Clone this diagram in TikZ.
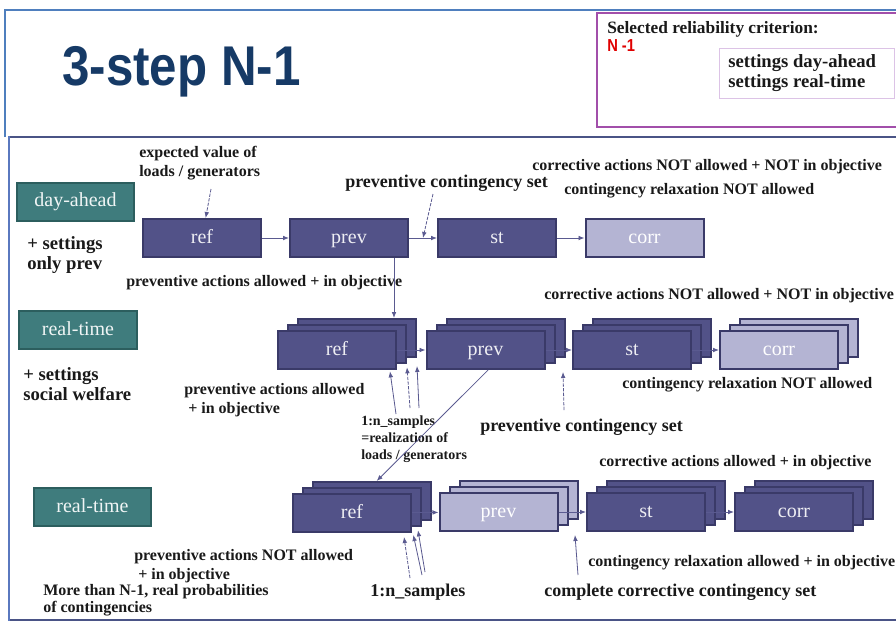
\documentclass[tikz,border=0pt]{standalone}
\usepackage{fontspec}
\setmainfont{Liberation Serif}
\newfontfamily\sansb{Liberation Sans}
\usetikzlibrary{arrows.meta,calc}
\definecolor{boxfill}{HTML}{525288}
\definecolor{boxline}{HTML}{3A3A68}
\definecolor{litefill}{HTML}{B4B4D3}
\definecolor{phasefill}{HTML}{3F7C7D}
\definecolor{phaseline}{HTML}{2C5E5E}
\definecolor{arrowc}{HTML}{5A5A90}
\definecolor{titlec}{HTML}{163A66}
\definecolor{hdrblue}{HTML}{4F7FBE}
\definecolor{mainblue}{HTML}{5A78BF}
\definecolor{mainline}{HTML}{4A5486}
\definecolor{purp}{HTML}{A24FAA}
\definecolor{lpurp}{HTML}{DCC3E6}
\definecolor{nred}{HTML}{E00000}
\tikzset{
 blk/.style={draw=boxline, fill=boxfill, line width=1.5pt, minimum width=88.5pt, minimum height=28.5pt, inner sep=0pt, text height=9pt, text depth=1.5pt, text=white!90!boxfill, font=\fontsize{15}{15}\selectfont},
 lite/.style={blk, fill=litefill, text=white},
 phase/.style={draw=phaseline, fill=phasefill, line width=1.5pt, minimum width=88pt, minimum height=28.5pt, inner sep=0pt, text height=9.5pt, text depth=1.5pt, text=white!92!phasefill, font=\fontsize{15}{15}\selectfont},
 lbl/.style={anchor=west, inner sep=0pt, align=left, text=black!90, font=\bfseries\fontsize{12}{14.25}\selectfont},
 big/.style={lbl, font=\bfseries\fontsize{13.5}{16}\selectfont},
 mid/.style={lbl, font=\bfseries\fontsize{14}{15}\selectfont},
 small/.style={lbl, font=\bfseries\fontsize{10.5}{12.75}\selectfont},
 conn/.style={draw=arrowc, line width=0.6pt, -{Latex[length=4.5pt,width=3.5pt]}},
 ann/.style={conn, dash pattern=on 2.5pt off 1pt}
}
\newcommand{\mystack}[5]{%
 \node[#4] (#1c) at ({#2+20},{#3-12}) {};
 \node[#4] (#1b) at ({#2+10},{#3-6}) {};
 \node[#4] (#1) at (#2,#3) {#5};}
\begin{document}
\begin{tikzpicture}[x=0.75pt,y=-0.75pt]
\useasboundingbox (0,0) rectangle (896,622);
\fill[white] (0,0) rectangle (896,622);
% frames
\draw[hdrblue, line width=1.5pt] (5,137) -- (5,10) -- (896,10);
\draw[purp, line width=2pt] (897,13) -- (597,13) -- (597,127) -- (897,127);
\draw[mainline, line width=1.5pt] (897,137) -- (9,137);
\draw[mainline, line width=1.5pt] (9,620) -- (897,620);
\draw[mainblue, line width=2.2pt] (9,136) -- (9,621);
% header
\node[anchor=west, inner sep=0pt, text=titlec, font=\sansb\bfseries\fontsize{42}{42}\selectfont] (title) at (62,72) {\scalebox{0.88}[1]{3-step N-1}};
\node[lbl, font=\bfseries\fontsize{13}{15}\selectfont] (sel) at (607,29) {Selected reliability criterion:};
\node[anchor=west, inner sep=0pt, text=nred, font=\sansb\bfseries\fontsize{13}{13}\selectfont] (n1) at (607,46) {\scalebox{0.85}[1]{N -1}};
\node[draw=lpurp, line width=0.75pt, minimum width=131pt, minimum height=37.5pt, inner sep=0pt] (sett) at (807,73.5) {};
\node[mid] (setttxt) at (728,73) {settings day-ahead\\settings real-time};

% row 1
\node[phase] (da) at (75.5,201.5) {day-ahead};
\node[mid] (set1) at (27,255) {+ settings\\only prev};
\node[blk] (ref1) at (202,238) {ref};
\node[blk] (prev1) at (349,238) {prev};
\node[blk] (st1) at (497,238) {st};
\node[lite] (corr1) at (644.5,238) {corr};
\draw[conn] (ref1) -- (prev1);
\draw[conn] (prev1) -- (st1);
\draw[conn] (st1) -- (corr1);
\node[lbl] (expv) at (139,163) {expected value of\\loads / generators};
\coordinate (expS) at (211,189);
\draw[ann] (expS) -- (ref1);
\node[big] (pcs1) at (345,183) {preventive contingency set};
\coordinate (pcs1S) at (433,194);
\coordinate (pcs1T) at ($(prev1.east)!0.5!(st1.west)$);
\draw[ann] (pcs1S) -- (pcs1T);
\node[lbl] (cna1) at (532,167) {corrective actions NOT allowed + NOT in objective};
\node[lbl] (crn1) at (564,191) {contingency relaxation NOT allowed};
\node[lbl] (paa1) at (126,283) {preventive actions allowed + in objective};

% row 2
\node[phase] (rt2) at (78,330) {real-time};
\node[mid] (set2) at (23,384) {+ settings\\social welfare};
\mystack{ref2}{337}{350}{blk}{ref}
\mystack{prev2}{485.5}{350}{blk}{prev}
\mystack{st2}{632}{350}{blk}{st}
\mystack{corr2}{779}{350}{lite}{corr}
\draw[conn] (ref2) -- (prev2);
\draw[conn] (prev2) -- (st2);
\draw[conn] (st2) -- (corr2);
\coordinate (v1) at ([xshift=-11.25pt]prev1.south east);
\draw[conn] (v1) -- (v1 |- ref2c.north);
\node[lbl] (cna2) at (544,296) {corrective actions NOT allowed + NOT in objective};
\node[lbl] (crn2) at (622,385) {contingency relaxation NOT allowed};
\node[big] (pcs2) at (480,427) {preventive contingency set};
\coordinate (pcs2S) at (564,410);
\coordinate (pcs2T) at (563,372);
\draw[ann] (pcs2S) -- (pcs2T);
\node[lbl] (paa2) at (184,400) {preventive actions allowed\\\hspace{3pt}+ in objective};
\node[small] (ns2) at (361,439) {1:n\_samples\\=realization of\\loads / generators};
\coordinate (s21) at (396,414);
\coordinate (s22) at (410,408);
\coordinate (s23) at (419,408);
\draw[conn] (s21) -- ([xshift=-5.25pt,yshift=-1pt]ref2.south east);
\draw[ann] (s22) -- ([yshift=-2.5pt]ref2b.south east);
\draw[conn] (s23) -- ([yshift=-6pt]ref2c.south east);

% row 3
\node[phase] (rt3) at (92.5,507) {real-time};
\mystack{ref3}{352}{513}{blk}{ref}
\mystack{prev3}{498.5}{512}{lite}{prev}
\mystack{st3}{646}{512}{blk}{st}
\mystack{corr3}{794}{512}{blk}{corr}
\draw[conn] (ref3) -- (prev3);
\draw[conn] (prev3) -- (st3);
\draw[conn] (st3) -- (corr3);
\draw[conn] ([xshift=2pt]prev2.south) -- ([xshift=3.5pt]ref3c.north);
\node[lbl] (ca3) at (599,463) {corrective actions allowed + in objective};
\node[lbl] (cra3) at (588,563) {contingency relaxation allowed + in objective};
\node[big] (ccs3) at (544,592) {complete corrective contingency set};
\coordinate (ccsS) at (578,575);
\coordinate (ccsT) at (575,535);
\draw[conn] (ccsS) -- (ccsT);
\node[big] (ns3) at (370,592) {1:n\_samples};
\coordinate (s31) at (410,578);
\coordinate (s32) at (422,575);
\coordinate (s33) at (425,572);
\draw[ann] (s31) -- ([xshift=-6pt,yshift=-3pt]ref3.south east);
\draw[conn] (s32) -- ([xshift=-6.5pt,yshift=-6pt]ref3b.south east);
\draw[conn] (s33) -- ([xshift=-10.5pt,yshift=-7pt]ref3c.south east);
\node[lbl] (pna3) at (134,566.5) {preventive actions NOT allowed\\\hspace{3pt}+ in objective};
\node[lbl, font=\bfseries\fontsize{12}{12.75}\selectfont] (mt3) at (43,600.5) {More than N-1, real probabilities\\of contingencies};
\end{tikzpicture}
\end{document}
